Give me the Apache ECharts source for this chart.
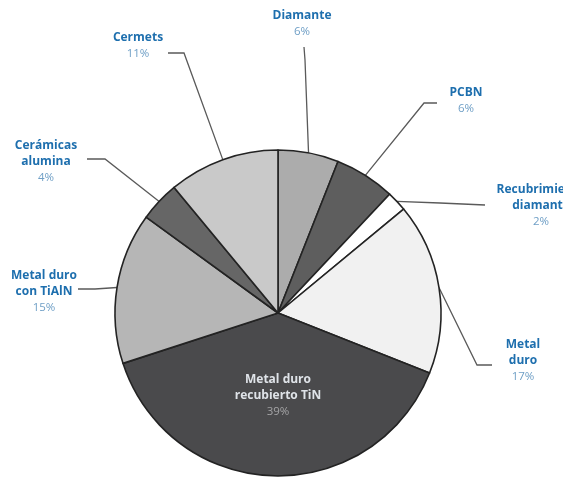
<!DOCTYPE html>
<html><head><meta charset="utf-8">
<script src="https://cdn.jsdelivr.net/npm/echarts@6/dist/echarts.min.js"></script>
<style>html,body{margin:0;padding:0;background:#fff}#c{width:563px;height:477px}</style>
</head><body><div id="c"></div>
<script>
const categories = ['Diamante','PCBN','Recubrimiento diamante','Metal duro','Metal duro recubierto TiN','Metal duro con TiAlN','Cerámicas alumina','Cermets'];
const labelLines = [['Diamante'],['PCBN'],['Recubrimiento','diamante'],['Metal','duro'],['Metal duro','recubierto TiN'],['Metal duro','con TiAlN'],['Cerámicas','alumina'],['Cermets']];
const values = [6,6,2,17,39,15,4,11];
const colors = ['#acacac','#5e5e5e','#ffffff','#f1f1f1','#4a4a4c','#b6b6b6','#666666','#c9c9c9'];

// label placement (layout only): [centerX, centerY, bendX, bendY, endX, endY]
const labelPos = [
  [302, 24, 305, 60, 304, 47],
  [466, 101, 424, 103, 437, 103],
  [541, 206, 440, 203, 485, 205],
  [523, 361, 477, 365, 492, 365],
  [278, 396, null],
  [44, 292, 95, 289, 78, 289],
  [46, 162, 105, 159, 87, 159],
  [138, 46, 184, 53, 168, 53]
];

const chart = echarts.init(document.getElementById('c'));
const data = categories.map((c, i) => {
  const inside = i === 4;
  return {
    name: c, value: values[i],
    itemStyle: {color: colors[i]},
    label: {
      formatter: labelLines[i].map(t => (inside ? '{ni|' : '{n|') + t + '}').join('\n') + '\n' + (inside ? '{pi|' : '{p|') + values[i] + '%}'
    },
    labelLine: {show: !inside}
  };
});

chart.setOption({
  animation: false,
  series: [{
    type: 'pie',
    center: [278, 313],
    radius: 163,
    startAngle: 90,
    clockwise: true,
    avoidLabelOverlap: false,
    data: data,
    itemStyle: {borderColor: '#232323', borderWidth: 1.6},
    label: {
      show: true,
      position: 'outside',
      align: 'center',
      rich: {
        n: {fontFamily: 'Open Sans', fontWeight: 'bold', fontSize: 12, color: '#1e6fae', lineHeight: 16, align: 'center'},
        p: {fontFamily: 'Open Sans', fontSize: 11.5, color: '#6f9fc6', lineHeight: 16, align: 'center'},
        ni: {fontFamily: 'Open Sans', fontWeight: 'bold', fontSize: 12, color: '#dfe3e8', lineHeight: 16, align: 'center'},
        pi: {fontFamily: 'Open Sans', fontSize: 11.5, color: '#a4a4a6', lineHeight: 16, align: 'center'}
      }
    },
    labelLine: {show: true, length: 20, length2: 20, lineStyle: {color: '#5a5a5a', width: 1.3}},
    labelLayout: function (params) {
      const p = labelPos[params.dataIndex];
      const out = {x: p[0], y: p[1], align: 'center', verticalAlign: 'middle'};
      if (p[2] != null && params.labelLinePoints) {
        const s = params.labelLinePoints[0];
        out.labelLinePoints = [[s[0], s[1]], [p[2], p[3]], [p[4], p[5]]];
      }
      return out;
    }
  }]
});
</script></body></html>
